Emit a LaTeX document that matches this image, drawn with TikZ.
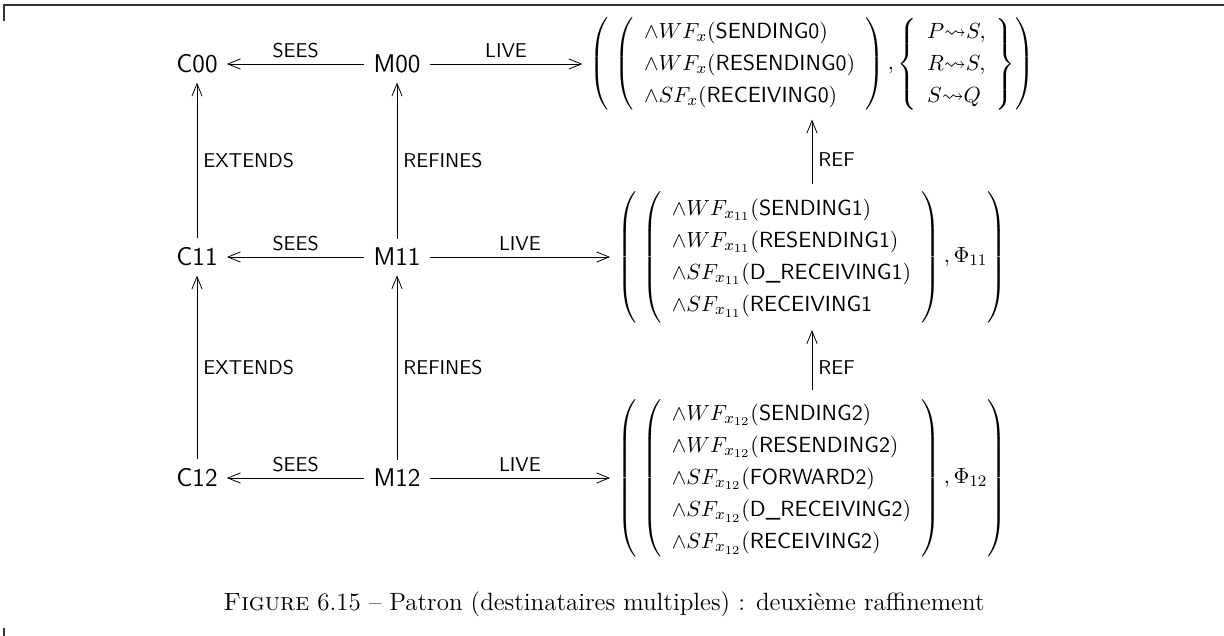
\documentclass[tikz,border=0pt]{standalone}
\usepackage{amsmath,amssymb}
\usepackage{fontspec}
\usetikzlibrary{arrows.meta}
\renewcommand{\arraystretch}{1.18}

\begin{document}
\begin{tikzpicture}[x=0.5pt, y=-0.5pt,
  mach/.style={font=\fontsize{12.8}{15}\selectfont\sffamily, inner sep=4.5pt},
  tag/.style={font=\fontsize{10}{12}\selectfont\sffamily, inner sep=3pt},
  formula/.style={font=\fontsize{10.95}{13.6}\selectfont, inner sep=3.5pt},
  arrow/.style={-{Straight Barb[length=2.2mm, width=1.8mm]}},
  pageedge/.style={line width=0.9pt, black!80}]
\useasboundingbox (0,0) rectangle (1224,636);
\draw[pageedge] (4,21) -- (4,5) -- (1224,5);
\draw[pageedge] (4,628) -- (4,636);

% machines and contexts
\node[mach] (c00) at (197,64) {C00};
\node[mach] (m00) at (397,64) {M00};
\node[mach] (c11) at (197,257) {C11};
\node[mach] (m11) at (397,257) {M11};
\node[mach] (c12) at (197,478) {C12};
\node[mach] (m12) at (397,478) {M12};

% liveness properties
\node[formula] (live00) at (812,64) {$\left(\;\left(\begin{array}{l}
  \wedge WF_x(\textsf{SENDING0})\\
  \wedge WF_x(\textsf{RESENDING0})\\
  \wedge SF_x(\textsf{RECEIVING0})
  \end{array}\right),\left\{\begin{array}{l}
  P{\leadsto}S,\\ R{\leadsto}S,\\ S{\leadsto}Q
  \end{array}\right\}\right)$};
\node[formula] (live11) at (812,257) {$\left(\;\left(\begin{array}{l}
  \wedge WF_{x_{11}}(\textsf{SENDING1})\\
  \wedge WF_{x_{11}}(\textsf{RESENDING1})\\
  \wedge SF_{x_{11}}(\textsf{D\_RECEIVING1})\\
  \wedge SF_{x_{11}}(\textsf{RECEIVING1}
  \end{array}\right),\Phi_{11}\right)$};
\node[formula] (live12) at (812,478) {$\left(\;\left(\begin{array}{l}
  \wedge WF_{x_{12}}(\textsf{SENDING2})\\
  \wedge WF_{x_{12}}(\textsf{RESENDING2})\\
  \wedge SF_{x_{12}}(\textsf{FORWARD2})\\
  \wedge SF_{x_{12}}(\textsf{D\_RECEIVING2})\\
  \wedge SF_{x_{12}}(\textsf{RECEIVING2})
  \end{array}\right),\Phi_{12}\right)$};

\draw[arrow] (m00) -- node[tag, above] {SEES} (c00);
\draw[arrow] (m11) -- node[tag, above] {SEES} (c11);
\draw[arrow] (m12) -- node[tag, above] {SEES} (c12);
\draw[arrow] (m00) -- node[tag, above] {LIVE} (live00);
\draw[arrow] (m11) -- node[tag, above] {LIVE} (live11);
\draw[arrow] (m12) -- node[tag, above] {LIVE} (live12);
\draw[arrow] (c11) -- node[tag, right] {EXTENDS} (c00);
\draw[arrow] (c12) -- node[tag, right] {EXTENDS} (c11);
\draw[arrow] (m11) -- node[tag, right] {REFINES} (m00);
\draw[arrow] (m12) -- node[tag, right] {REFINES} (m11);
\draw[arrow] (live11) -- node[tag, right, pos=0.38] {REF} (live00);
\draw[arrow] (live12) -- node[tag, right, pos=0.38] {REF} (live11);

\node[font=\fontsize{12.5}{15}\selectfont, anchor=base] (caption) at (604,610)
  {\textsc{Figure} 6.15 -- Patron (destinataires multiples) : deuxième raffinement};
\end{tikzpicture}
\end{document}
